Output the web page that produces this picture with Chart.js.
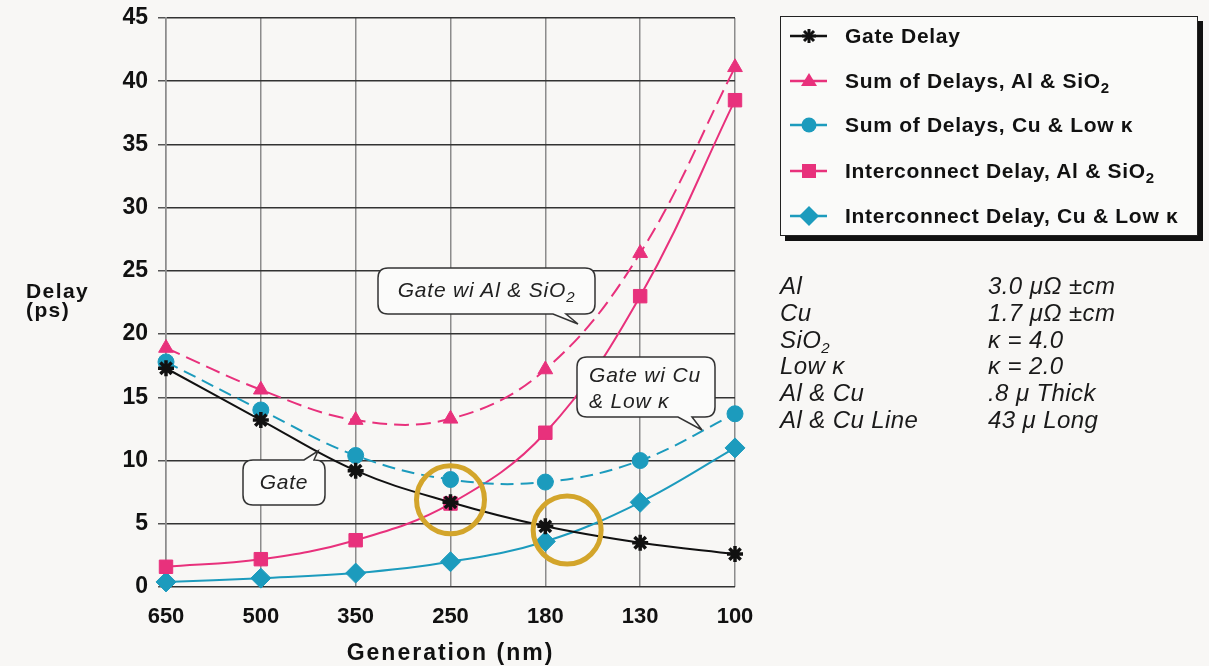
<!DOCTYPE html>
<html>
<head>
<meta charset="utf-8">
<script src="https://cdn.jsdelivr.net/npm/chart.js@4/dist/chart.umd.min.js"></script>
<style>
html,body{margin:0;padding:0;background:#f8f7f5;}
#wrap{position:relative;width:1209px;height:666px;overflow:hidden;font-family:"Liberation Sans",Arial,Helvetica,sans-serif;color:#111;}
#c{position:absolute;left:0;top:-21px;}
.abs{position:absolute;white-space:nowrap;}
#legend{position:absolute;left:780px;top:16px;width:416px;height:218px;border:1.5px solid #222;box-shadow:5px 5px 0 #111;background:#fafaf9;}
.lrow{position:absolute;left:0;height:30px;white-space:nowrap;}
.lrow svg{position:absolute;left:8px;top:5px;}
.lrow span{position:absolute;left:64px;top:3px;font-weight:bold;font-size:21px;line-height:24px;letter-spacing:0.7px;white-space:nowrap;}
sub.s{font-size:15px;vertical-align:-5px;line-height:0;}
.tbl{font-style:italic;font-size:24px;line-height:26.8px;letter-spacing:0.4px;color:#1a1a1a;}
.co{font-style:italic;font-size:21px;letter-spacing:0.8px;color:#222;}
#ytitle{position:absolute;left:26px;top:281px;font-weight:bold;font-size:21px;line-height:19px;letter-spacing:1.4px;}
#xtitle{position:absolute;left:166px;width:569px;top:640px;text-align:center;font-weight:bold;font-size:23px;line-height:25px;letter-spacing:2px;}
</style>
</head>
<body>
<div id="wrap">
<canvas id="c" width="1209" height="687"></canvas>
<svg class="abs" style="left:0;top:0" width="1209" height="666">
  <g fill="#fbfbfa" stroke="#333" stroke-width="1.5">
    <path d="M 388 268 H 585 Q 595 268 595 278 V 304 Q 595 314 585 314 H 566 L 578 324 L 553 314 H 388 Q 378 314 378 304 V 278 Q 378 268 388 268 Z"/>
    <path d="M 587 357 H 705 Q 715 357 715 367 V 407 Q 715 417 705 417 H 692 L 702 430 L 678 417 H 587 Q 577 417 577 407 V 367 Q 577 357 587 357 Z"/>
    <path d="M 253 460 H 304 L 318 451 L 314 460 H 315 Q 325 460 325 470 V 495 Q 325 505 315 505 H 253 Q 243 505 243 495 V 470 Q 243 460 253 460 Z"/>
  </g>
</svg>
<div class="abs co" style="left:378px;top:278px;width:217px;text-align:center;line-height:24px;">Gate wi Al &amp; SiO<sub class="s">2</sub></div>
<div class="abs co" style="left:589px;top:362px;line-height:26px;">Gate wi Cu<br>&amp; Low κ</div>
<div class="abs co" style="left:243px;top:470px;width:82px;text-align:center;line-height:24px;">Gate</div>

<div id="ytitle">Delay<br>(ps)</div>
<div id="xtitle">Generation (nm)</div>

<div id="legend"></div>

<div class="abs tbl" style="left:780px;top:273px;">Al<br>Cu<br>SiO<sub class="s">2</sub><br>Low κ<br>Al &amp; Cu<br>Al &amp; Cu Line</div>
<div class="abs tbl" style="left:988px;top:273px;">3.0 μΩ ±cm<br>1.7 μΩ ±cm<br>κ = 4.0<br>κ = 2.0<br>.8 μ Thick<br>43 μ Long</div>
</div>

<script>
// ---- data ----
const generations = ['650', '500', '350', '250', '180', '130', '100'];
const gateDelay   = [17.3, 13.2, 9.2, 6.7, 4.8, 3.5, 2.6];
const sumAlSiO2   = [18.9, 15.6, 13.2, 13.3, 17.2, 26.4, 41.1];
const sumCuLowK   = [17.8, 14.0, 10.4, 8.5, 8.3, 10.0, 13.7];
const intAlSiO2   = [1.6, 2.2, 3.7, 6.6, 12.2, 23.0, 38.5];
const intCuLowK   = [0.4, 0.7, 1.1, 2.0, 3.6, 6.7, 11.0];
const highlightX  = [3, 4.23];
const highlightY  = [6.9, 4.5];
const yMin = 0, yMax = 45, yStep = 5;

const PINK = '#e8317c', TEAL = '#1c9bbd', BLACK = '#111111', GOLD = '#d3a52b';
const FONT = '"Liberation Sans", Arial, Helvetica, sans-serif';

const toPts = arr => arr.map((v, i) => ({x: i, y: v}));

const series = [
  {name: 'Gate Delay', html: 'Gate Delay', data: gateDelay, color: BLACK, style: 'star', r: 8, dash: []},
  {name: 'Sum of Delays, Al & SiO2', html: 'Sum of Delays, Al &amp; SiO<sub class="s">2</sub>', data: sumAlSiO2, color: PINK, style: 'triangle', r: 8.5, dash: [15, 7]},
  {name: 'Sum of Delays, Cu & Low κ', html: 'Sum of Delays, Cu &amp; Low κ', data: sumCuLowK, color: TEAL, style: 'circle', r: 8, dash: [13, 7]},
  {name: 'Interconnect Delay, Al & SiO2', html: 'Interconnect Delay, Al &amp; SiO<sub class="s">2</sub>', data: intAlSiO2, color: PINK, style: 'rect', r: 9.5, dash: []},
  {name: 'Interconnect Delay, Cu & Low κ', html: 'Interconnect Delay, Cu &amp; Low κ', data: intCuLowK, color: TEAL, style: 'rectRot', r: 10, dash: []}
];

const datasets = series.map((s, i) => ({
  label: s.name,
  data: toPts(s.data),
  borderColor: s.color,
  backgroundColor: s.color,
  borderWidth: 2,
  borderDash: s.dash,
  tension: 0.38,
  clip: false,
  pointStyle: s.style,
  pointRadius: s.r,
  pointBorderWidth: s.style === 'star' ? 3.5 : 1,
  pointBorderColor: s.color,
  pointBackgroundColor: s.color,
  order: i === 0 ? 1 : i + 1
}));
datasets.push({
  label: 'highlight',
  data: highlightX.map((x, i) => ({x: x, y: highlightY[i]})),
  showLine: false,
  clip: false,
  pointStyle: 'circle',
  pointRadius: 34,
  pointBorderWidth: 5,
  pointBorderColor: GOLD,
  pointBackgroundColor: 'rgba(0,0,0,0)',
  order: 0
});

new Chart(document.getElementById('c'), {
  type: 'line',
  data: {datasets: datasets},
  options: {
    responsive: false,
    animation: false,
    layout: {padding: {left: 0, top: 17, right: 474, bottom: 0}},
    plugins: {legend: {display: false}, tooltip: {enabled: false}},
    scales: {
      x: {
        type: 'linear', min: 0, max: generations.length - 1,
        ticks: {stepSize: 1, autoSkip: false, maxRotation: 0, padding: 17, color: '#111',
          font: {family: FONT, size: 22, weight: 'bold'},
          callback: v => generations[v] !== undefined ? generations[v] : ''},
        grid: {color: '#8c8c8c', lineWidth: 1.5, drawTicks: false},
        border: {display: false},
        afterFit: s => { s.height = 79; }
      },
      y: {
        min: yMin, max: yMax,
        ticks: {stepSize: yStep, padding: 10, color: '#111', font: {family: FONT, size: 23, weight: 'bold'}},
        grid: {color: '#333', lineWidth: 1.5, drawTicks: true, tickLength: 8, tickColor: '#555'},
        border: {display: true, color: '#8c8c8c', width: 1.5},
        afterFit: s => { s.width = 166; }
      }
    }
  }
});

// ---- legend (HTML) ----
function markerSvg(s) {
  const c = s.color, cx = 20, cy = 10;
  let m = '';
  if (s.style === 'star') m = `<g stroke="${c}" stroke-width="3"><line x1="${cx-7}" y1="${cy}" x2="${cx+7}" y2="${cy}"/><line x1="${cx}" y1="${cy-7}" x2="${cx}" y2="${cy+7}"/><line x1="${cx-5}" y1="${cy-5}" x2="${cx+5}" y2="${cy+5}"/><line x1="${cx-5}" y1="${cy+5}" x2="${cx+5}" y2="${cy-5}"/></g>`;
  if (s.style === 'triangle') m = `<polygon fill="${c}" points="${cx},${cy-8} ${cx+8},${cy+5} ${cx-8},${cy+5}"/>`;
  if (s.style === 'circle') m = `<circle fill="${c}" cx="${cx}" cy="${cy}" r="7.5"/>`;
  if (s.style === 'rect') m = `<rect fill="${c}" x="${cx-7}" y="${cy-7}" width="14" height="14"/>`;
  if (s.style === 'rectRot') m = `<polygon fill="${c}" points="${cx},${cy-10} ${cx+10},${cy} ${cx},${cy+10} ${cx-10},${cy}"/>`;
  return `<svg width="40" height="20"><line x1="1" y1="${cy}" x2="38" y2="${cy}" stroke="${c}" stroke-width="2.5"/>${m}</svg>`;
}
const rowTops = [4, 49, 93, 139, 184];
document.getElementById('legend').innerHTML = series.map((s, i) =>
  `<div class="lrow" style="top:${rowTops[i]}px">${markerSvg(s)}<span>${s.html}</span></div>`).join('');
</script>
</body>
</html>
